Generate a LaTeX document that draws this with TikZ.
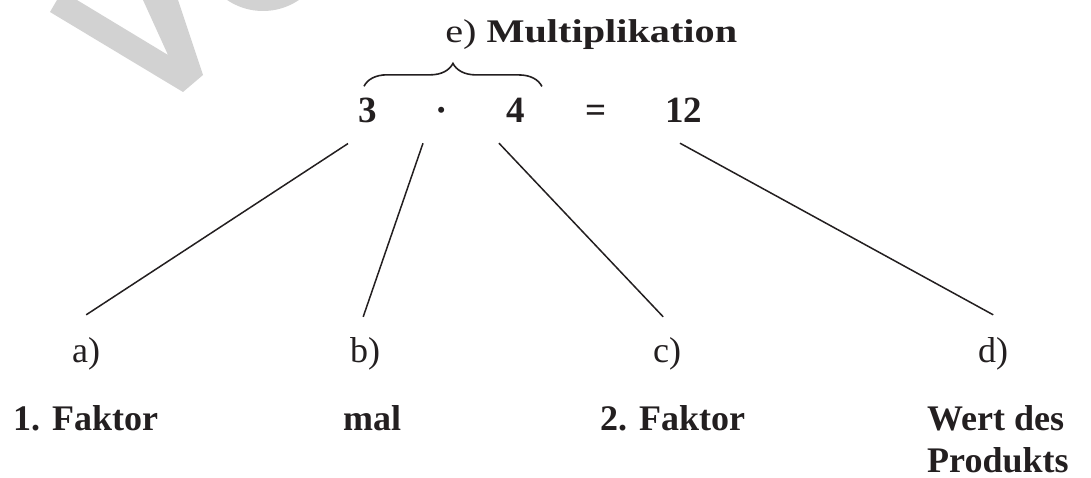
\documentclass[tikz,border=0pt]{standalone}
\usepackage{fontspec}
\setmainfont{Liberation Serif}
\definecolor{InkDark}{HTML}{231F20}
\definecolor{MarkGray}{HTML}{D2D2D2}
\usetikzlibrary{decorations.pathreplacing,positioning}

\begin{document}
\begin{tikzpicture}[x=1pt,y=1pt,
    num/.style={inner sep=0pt,text=InkDark,font=\fontsize{37}{44}\selectfont\bfseries},
    tag/.style={inner sep=0pt,text=InkDark,font=\fontsize{36}{43}\selectfont},
    term/.style={inner sep=0pt,text=InkDark,font=\fontsize{36}{43}\selectfont\bfseries},
    leg/.style={line width=1.5pt,draw=InkDark}]
  \useasboundingbox (0,0) rectangle (1091,-478);
  \begin{scope}
    \clip (0,0) rectangle (1091,-478);
    \fill[MarkGray] (50,-12) -- (57,0) -- (77,0) -- (168,-55) -- (143,0) -- (178,0)
      -- (203,-75) -- (183,-92) -- cycle;
    \fill[MarkGray] (263,53) circle (64pt);
  \end{scope}

  \node[tag, font=\fontsize{33}{40}\selectfont, anchor=base west, xscale=1.22] (head)
    at (445,-43) {e) \textbf{Multiplikation}};

  \node[num, anchor=base west] (three) at (358,-123) {3};
  \node[num, anchor=base] (dot) at (442,-123) {·};
  \node[num, anchor=base west] (four) at (506,-123) {4};
  \node[num, anchor=base west] (equals) at (585,-123) {=};
  \node[num, anchor=base west] (twelve) at (665,-123) {12};

  \draw[line width=1.6pt, draw=InkDark, decorate, decoration={brace, amplitude=23pt}]
    ([xshift=6pt,yshift=12pt]three.north west) -- ([xshift=17pt,yshift=12pt]four.north east);

  \node[tag, anchor=base west] (la) at (72,-362) {a)};
  \node[tag, anchor=base west] (lb) at (350,-362) {b)};
  \node[tag, anchor=base west] (lc) at (653,-362) {c)};
  \node[tag, anchor=base west] (ld) at (978,-362) {d)};

  \draw[leg] ([xshift=-10pt,yshift=-20pt]three.south west) -- ([yshift=22pt]la.north);
  \draw[leg] ([xshift=-19pt,yshift=-20pt]dot.south) -- ([xshift=-2pt,yshift=20pt]lb.north);
  \draw[leg] ([xshift=-7pt,yshift=-20pt]four.south west) -- ([xshift=-4pt,yshift=20pt]lc.north);
  \draw[leg] ([xshift=15pt,yshift=-20pt]twelve.south west) -- ([yshift=22pt]ld.north);

  \node[term, anchor=base west] (f1) at (13,-430) {1. Faktor};
  \node[term, anchor=base west] (mal) at (343,-430) {mal};
  \node[term, anchor=base west] (f2) at (600,-430) {2. Faktor};
  \node[term, anchor=base west] (wert) at (927,-430) {Wert des};
  \node[term, anchor=base west] (prod) at ([yshift=-42pt]wert.base west) {Produkts};
\end{tikzpicture}
\end{document}
